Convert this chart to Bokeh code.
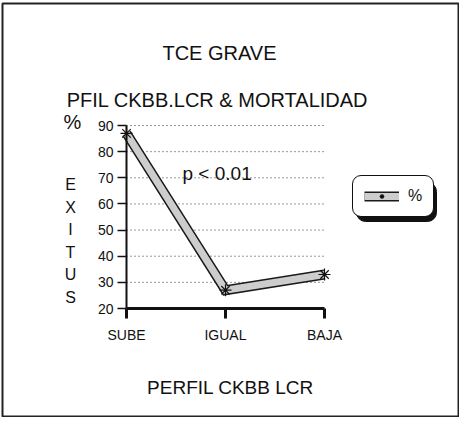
from bokeh.plotting import figure
from bokeh.models import Label, Legend, LegendItem, FixedTicker, Range1d, BoxAnnotation
from bokeh.embed import file_html
from bokeh.resources import INLINE

# ---- data ----
categories = ["SUBE", "IGUAL", "BAJA"]
exitus = [87, 27, 33]
y_ticks = [20, 30, 40, 50, 60, 70, 80, 90]
title_main = "TCE GRAVE"
title_sub = "PFIL CKBB.LCR & MORTALIDAD"
x_title = "PERFIL CKBB LCR"
y_title_letters = list("EXITUS")
series_name = "%"
p_text = "p < 0.01"

FONT = "Liberation Sans"
OFF = 0                      # offset of the figure in the picture
W, H = 459, 417
# where data corners sit, in picture px
PX0, PX1 = 126, 324          # x of first / last category
PY0, PY1 = 308, 125          # y of lowest / highest tick

xs = list(range(len(categories)))
X0, X1 = xs[0], xs[-1]
Y0, Y1 = y_ticks[0], y_ticks[-1]
kx = (PX1 - PX0) / (X1 - X0)
ky = (PY0 - PY1) / (Y1 - Y0)


def dx(px):
    return X0 + (px - PX0) / kx


def dy(py):
    return Y0 + (PY0 - py) / ky


p = figure(width=W, height=H, output_backend="svg", toolbar_location=None,
           x_range=Range1d(dx(OFF), dx(OFF + W)), y_range=Range1d(dy(OFF + H), dy(OFF)),
           min_border=0, min_border_left=0, min_border_right=0, min_border_top=0,
           min_border_bottom=0)
p.outline_line_color = None
p.background_fill_color = "white"
p.border_fill_color = "white"
p.xgrid.visible = False
p.ygrid.visible = False

# y axis
ya = p.yaxis[0]
ya.fixed_location = X0
ya.bounds = (Y0, Y1)
ya.ticker = FixedTicker(ticks=y_ticks)
ya.major_tick_out = 9
ya.major_tick_in = 0
ya.minor_tick_out = 0
ya.minor_tick_in = 0
ya.axis_line_width = 2
ya.axis_line_color = "#111111"
ya.major_tick_line_width = 1.5
ya.major_tick_line_color = "#111111"
ya.major_label_text_font = FONT
ya.major_label_text_font_size = "14px"
ya.major_label_text_color = "#111111"
ya.major_label_standoff = 4

# x axis
xa = p.xaxis[0]
xa.fixed_location = Y0
xa.bounds = (X0, X1)
xa.ticker = FixedTicker(ticks=xs)
xa.major_label_overrides = {i: c for i, c in zip(xs, categories)}
xa.major_tick_out = 10
xa.major_tick_in = 0
xa.minor_tick_out = 0
xa.minor_tick_in = 0
xa.axis_line_width = 3
xa.axis_line_color = "#111111"
xa.major_tick_line_width = 3
xa.major_tick_line_color = "#111111"
xa.major_label_text_font = FONT
xa.major_label_text_font_size = "14px"
xa.major_label_text_color = "#111111"
xa.major_label_standoff = 8

# dotted horizontal grid lines across the category span
grid_y = y_ticks[1:]
p.segment(x0=[X0] * len(grid_y), x1=[X1] * len(grid_y), y0=grid_y, y1=grid_y,
          line_color="#333333", line_dash="1 3", line_width=1)

# series: thick grey band with black outline
r_out = p.line(xs, exitus, line_color="#1a1a1a", line_width=10, line_join="miter")
r_in = p.line(xs, exitus, line_color="#cdcdcd", line_width=7, line_join="miter")
r_mk = p.scatter(xs, exitus, marker="asterisk", size=12, line_color="#111111", line_width=1.2)

# legend box geometry (picture px)
LEG_L, LEG_T, LEG_R, LEG_B = 352, 178, 432, 217
SH = 4
shadow = BoxAnnotation(left=dx(LEG_L + SH), right=dx(LEG_R + SH), top=dy(LEG_T + SH),
                       bottom=dy(LEG_B + SH), fill_color="#111111", fill_alpha=1,
                       line_color="#111111", line_alpha=1)
if "border_radius" in BoxAnnotation.properties():
    shadow.border_radius = 9
p.add_layout(shadow)

leg = Legend(items=[LegendItem(label=series_name, renderers=[r_out, r_in, r_mk])],
             location=(LEG_L - OFF, OFF + H - LEG_B), orientation="vertical")
leg.border_line_color = "#111111"
leg.border_line_alpha = 1
leg.border_line_width = 1.5
leg.background_fill_color = "white"
leg.background_fill_alpha = 1
leg.padding = 11
leg.margin = 0
leg.glyph_width = 35
leg.glyph_height = 12
leg.label_standoff = 9
leg.label_width = 14
leg.label_height = 17
leg.label_text_font = FONT
leg.label_text_font_size = "16px"
leg.label_text_color = "#111111"
if "border_radius" in Legend.properties():
    leg.border_radius = 9
p.add_layout(leg)

# outer frame of the figure
p.add_layout(BoxAnnotation(left=dx(2), right=dx(W - 1), top=dy(3), bottom=dy(H - 1),
                           fill_color=None, line_color="#222222", line_width=2,
                           line_alpha=1))


def add_text(txt, px, py, size, align="left", baseline="alphabetic"):
    p.add_layout(Label(x=dx(px), y=dy(py), text=txt, text_font=FONT,
                       text_font_size=size, text_align=align,
                       text_baseline=baseline, text_color="#111111"))


add_text(title_main, 219, 52, "20px", align="center")
add_text(title_sub, 217, 99, "20px", align="center")
add_text("%", 63, 121, "20px")
add_text(p_text, 182, 173, "19px")
add_text(x_title, 230, 387, "19px", align="center")
for i, ch in enumerate(y_title_letters):
    add_text(ch, 70, 184 + i * 22.6, "16px", align="center", baseline="middle")

open("out.html", "w").write(file_html(p, INLINE))
